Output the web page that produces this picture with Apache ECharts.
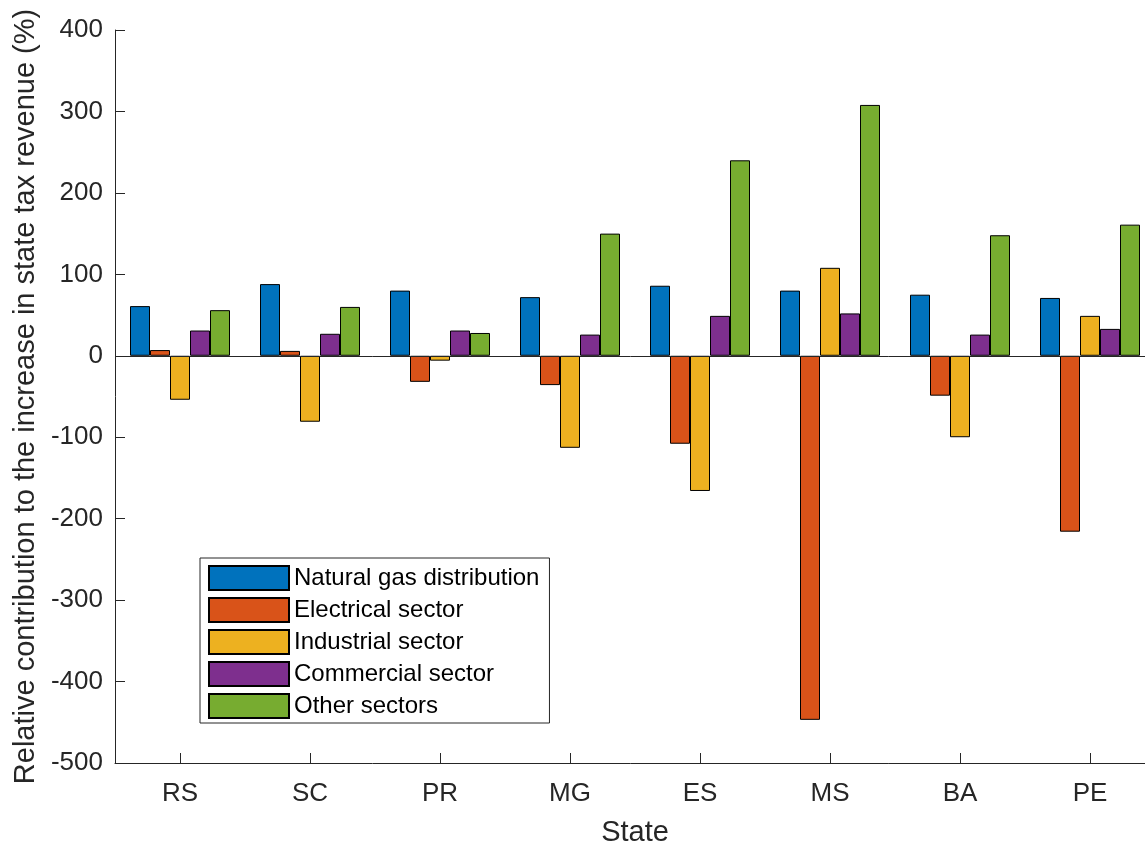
<!DOCTYPE html>
<html>
<head>
<meta charset="utf-8">
<title>Relative contribution to the increase in state tax revenue</title>
<script src="https://cdn.jsdelivr.net/npm/echarts@6/dist/echarts.min.js"></script>
<style>
  html, body { margin: 0; padding: 0; background: #fff; }
  #chart { width: 1145px; height: 848px; }
</style>
</head>
<body>
<div id="chart"></div>
<script>
// States on the category axis
const states = ['RS', 'SC', 'PR', 'MG', 'ES', 'MS', 'BA', 'PE'];

// Relative contribution (%) of each sector, one value per state
const naturalGas = [61, 88, 80, 72, 86, 80, 75, 71];
const electrical = [7, 6, -32, -36, -108, -447, -49, -216];
const industrial = [-54, -81, -6, -113, -166, 108, -100, 49];
const commercial = [31, 27, 31, 26, 49, 52, 26, 33];
const otherSectors = [56, 60, 28, 150, 240, 308, 148, 161];

const seriesNames = ['Natural gas distribution', 'Electrical sector', 'Industrial sector', 'Commercial sector', 'Other sectors'];
const seriesValues = [naturalGas, electrical, industrial, commercial, otherSectors];
const seriesColors = ['#0072BD', '#D95319', '#EDB120', '#7E2F8E', '#77AC30'];

const axisColor = '#262626';
const fontFamily = '"Liberation Sans", Arial, Helvetica, sans-serif';

const chart = echarts.init(document.getElementById('chart'), null, { renderer: 'canvas' });

const series = seriesNames.map((name, i) => {
  const s = {
    name: name,
    type: 'bar',
    data: seriesValues[i],
    barWidth: 20,
    barGap: '0%',
    itemStyle: { color: seriesColors[i], borderColor: '#000', borderWidth: 1 }
  };
  if (i === 0) {
    // bar baseline at zero
    s.markLine = {
      silent: true,
      symbol: 'none',
      label: { show: false },
      lineStyle: { color: axisColor, width: 1, type: 'solid' },
      data: [{ yAxis: 0 }]
    };
  }
  return s;
});

chart.setOption({
  animation: false,
  backgroundColor: '#fff',
  textStyle: { fontFamily: fontFamily },
  grid: {
    left: 115, top: 30, bottom: 85, width: 1040,
    containLabel: false,
    outerBoundsMode: 'none'
  },
  legend: {
    orient: 'vertical',
    left: 200,
    top: 558,
    itemWidth: 80,
    itemHeight: 24,
    itemGap: 6,
    padding: [7, 10, 4, 8],
    borderColor: axisColor,
    borderWidth: 1,
    backgroundColor: '#fff',
    icon: 'rect',
    textStyle: { fontSize: 24, lineHeight: 24, color: '#000', fontFamily: fontFamily },
    data: seriesNames
  },
  xAxis: {
    type: 'category',
    data: states,
    name: 'State',
    nameLocation: 'middle',
    nameGap: 55,
    nameTextStyle: { fontSize: 29, color: axisColor, fontFamily: fontFamily },
    axisLine: { show: true, onZero: false, lineStyle: { color: axisColor, width: 1 } },
    axisTick: { show: true, inside: true, length: 10, alignWithLabel: true, lineStyle: { color: axisColor } },
    axisLabel: { fontSize: 26, color: axisColor, margin: 18, fontFamily: fontFamily },
    splitLine: { show: false }
  },
  yAxis: {
    type: 'value',
    min: -500,
    max: 400,
    interval: 100,
    name: 'Relative contribution to the increase in state tax revenue (%)',
    nameLocation: 'middle',
    nameGap: 72,
    nameRotate: 90,
    nameTextStyle: { fontSize: 29, color: axisColor, fontFamily: fontFamily },
    axisLine: { show: true, lineStyle: { color: axisColor, width: 1 } },
    axisTick: { show: true, inside: true, length: 10, lineStyle: { color: axisColor } },
    axisLabel: { fontSize: 26, color: axisColor, margin: 12, fontFamily: fontFamily },
    splitLine: { show: false }
  },
  series: series
});
</script>
</body>
</html>
